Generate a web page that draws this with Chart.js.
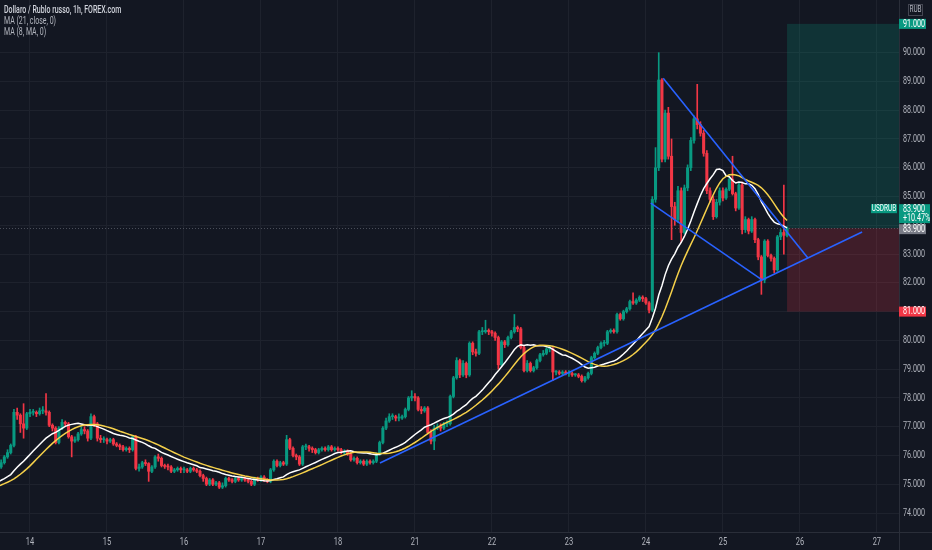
<!DOCTYPE html>
<html>
<head>
<meta charset="utf-8">
<script src="https://cdn.jsdelivr.net/npm/chart.js@4.4.0/dist/chart.umd.min.js"></script>
<style>
body{margin:0;background:#131722;overflow:hidden}
#wrap{position:relative;width:932px;height:550px}
#legend{position:absolute;left:4px;top:4px;font:10px Roboto,sans-serif;line-height:11px;color:#b2b5be;transform:scaleX(0.7);transform-origin:0 0;white-space:nowrap}
#legend .t{color:#d1d4dc;font-weight:500}
</style>
</head>
<body>
<div id="wrap">
  <canvas id="chart" width="932" height="550"></canvas>
  <div id="legend">
    <div class="t">Dollaro / Rublo russo, 1h, FOREX.com</div>
    <div>MA (21, close, 0)</div>
    <div>MA (8, MA, 0)</div>
  </div>
</div>
<script>
// hourly candles, hour 0 = day 14 00:00 (weekend skipped)
var firstHour = -9;
var firstOpen = 75.6;
var closes = [
  75.75, 75.95, 76.1, 76.35, 77.5, 77.4, 77.1, 76.95, 77.45,
  // 14
  77.5, 77.5, 77.45, 77.55, 77.55, 77.5, 77.05, 76.95, 76.45, 76.95, 77.15, 77.1, 76.65, 76.5, 76.55, 76.75, 76.9, 76.85, 76.6, 77.35, 77.1, 76.6, 76.55, 76.55,
  // 15
  76.5, 76.55, 76.4, 76.35, 76.3, 76.2, 76.25, 76.2, 76.65, 75.55, 75.6, 75.75, 75.72, 75.45, 75.6, 75.95, 75.9, 75.65, 75.62, 75.6, 75.45, 75.5, 75.55, 75.5,
  // 16
  75.5, 75.45, 75.55, 75.5, 75.45, 75.3, 75.2, 75.0, 75.15, 75.0, 75.05, 74.9, 74.95, 75.2, 75.15, 75.1, 75.2, 75.15, 75.2, 75.15, 75.1, 75.0, 75.2, 75.15,
  // 17
  75.25, 75.15, 75.1, 75.5, 75.8, 75.65, 75.75, 75.7, 76.55, 76.25, 76.0, 75.95, 75.7, 76.3, 76.3, 76.25, 76.2, 76.1, 76.2, 76.25, 76.2, 76.3, 76.2, 76.25,
  // 18
  76.2, 76.1, 76.15, 76.05, 75.85, 75.9, 75.75, 75.8, 75.7, 75.8, 75.75, 75.8, 76.05, 76.45, 76.95, 77.2, 77.35, 77.35, 77.3, 77.3, 77.35, 77.6, 78.0, 78.05,
  // 21
  78.0, 77.6, 77.55, 77.65, 76.8, 76.5, 76.95, 77.0, 76.95, 77.1, 77.1, 78.05, 78.7, 79.3, 78.8, 79.2, 78.8, 79.9, 79.6, 79.55, 80.3, 80.3, 80.35, 80.3,
  // 22
  80.25, 80.1, 79.15, 79.95, 79.85, 80.1, 80.3, 80.45, 80.4, 79.75, 78.95, 79.2, 78.95, 79.05, 79.3, 79.5, 79.55, 79.7, 79.7, 78.9, 78.9, 78.85, 78.9, 78.85,
  // 23
  78.85, 78.8, 78.8, 78.75, 78.6, 78.7, 78.85, 79.4, 79.55, 79.75, 79.9, 79.9, 80.3, 80.35, 80.3, 80.9, 80.75, 81.0, 81.1, 81.35, 81.3, 81.4, 81.5, 81.45,
  // 24
  81.3, 81.05, 84.9, 86.0, 89.05, 86.3, 87.9, 86.4, 84.65, 84.2, 85.2, 83.75, 85.3, 86.0, 86.95, 87.7, 87.5, 87.2, 86.5, 85.2, 84.9, 84.3, 84.8, 85.2,
  // 25
  84.95, 85.25, 85.6, 85.1, 84.6, 85.4, 83.85, 84.2, 83.8, 84.2, 83.5, 82.9, 82.1, 83.45, 82.95, 82.85, 82.45, 83.6, 83.75, 83.65, 83.9
];
var highs = [
  75.85, 76.0, 76.2, 76.4, 77.6, 77.65, 77.45, 77.8, 77.5,
  77.6, 77.6, 77.55, 77.65, 77.7, 78.15, 77.55, 77.1, 77.0, 77.0, 77.25, 77.2, 77.15, 76.7, 76.65, 76.8, 77.0, 77.0, 76.9, 77.45, 77.4, 77.15, 76.7, 76.65,
  76.6, 76.6, 76.6, 76.45, 76.4, 76.35, 76.3, 76.3, 76.7, 76.7, 75.7, 75.8, 75.85, 75.75, 75.65, 76.0, 76.05, 75.95, 75.7, 75.7, 75.65, 75.55, 75.6, 75.6,
  75.6, 75.55, 75.6, 75.6, 75.55, 75.5, 75.35, 75.25, 75.2, 75.2, 75.1, 75.1, 75.05, 75.25, 75.25, 75.2, 75.25, 75.25, 75.25, 75.25, 75.2, 75.15, 75.25, 75.25,
  75.3, 75.3, 75.2, 75.55, 75.85, 75.85, 75.8, 75.8, 76.7, 76.6, 76.3, 76.05, 76.0, 76.35, 76.4, 76.35, 76.3, 76.25, 76.25, 76.3, 76.3, 76.35, 76.35, 76.3,
  76.3, 76.25, 76.2, 76.2, 76.1, 75.95, 75.95, 75.85, 75.85, 75.85, 75.85, 75.85, 76.1, 76.5, 77.0, 77.3, 77.45, 77.45, 77.4, 77.45, 77.4, 77.65, 78.05, 78.25,
  78.15, 78.05, 77.7, 77.7, 77.7, 76.9, 77.05, 77.1, 77.1, 77.15, 77.2, 78.1, 78.75, 79.4, 79.35, 79.3, 79.25, 79.95, 79.95, 79.7, 80.35, 80.45, 80.7, 80.4,
  80.35, 80.3, 80.15, 80.0, 80.0, 80.15, 80.35, 80.9, 80.5, 80.45, 79.8, 79.3, 79.25, 79.1, 79.35, 79.55, 79.65, 79.75, 79.8, 79.75, 78.95, 78.95, 78.95, 78.95,
  78.95, 78.9, 78.85, 78.85, 78.8, 78.75, 78.9, 79.45, 79.6, 79.8, 79.95, 80.0, 80.35, 80.4, 80.4, 80.95, 80.95, 81.05, 81.15, 81.4, 81.65, 81.45, 81.55, 81.55,
  81.5, 81.35, 85.0, 86.7, 90.0, 89.1, 88.0, 88.1, 87.0, 84.8, 85.35, 85.3, 85.4, 86.1, 87.05, 87.8, 88.9, 87.6, 87.3, 86.6, 85.3, 85.0, 84.9, 85.3,
  85.3, 85.3, 85.65, 86.4, 85.15, 85.5, 85.5, 84.3, 84.25, 84.3, 84.25, 83.55, 82.95, 83.5, 83.5, 83.0, 82.9, 83.65, 83.85, 85.4, 83.95
];
var lows = [
  75.55, 75.7, 75.9, 76.05, 76.3, 77.25, 76.8, 76.6, 76.9,
  77.35, 77.4, 77.35, 77.4, 77.45, 77.4, 77.0, 76.85, 76.4, 76.4, 76.9, 77.0, 76.6, 75.95, 76.45, 76.5, 76.7, 76.75, 76.5, 76.55, 77.0, 76.5, 76.45, 76.45,
  76.4, 76.45, 76.35, 76.3, 76.2, 76.15, 76.15, 76.1, 76.15, 75.5, 75.45, 75.55, 75.65, 75.1, 75.4, 75.55, 75.8, 75.6, 75.55, 75.5, 75.4, 75.4, 75.45, 75.4,
  75.4, 75.4, 75.4, 75.45, 75.4, 75.25, 75.1, 74.95, 74.95, 74.95, 74.95, 74.85, 74.85, 74.9, 75.1, 75.05, 75.05, 75.1, 75.1, 75.1, 75.05, 74.95, 74.95, 75.1,
  75.1, 75.1, 75.05, 75.05, 75.45, 75.6, 75.6, 75.65, 75.65, 76.2, 75.95, 75.85, 75.65, 75.65, 76.2, 76.15, 76.1, 76.05, 76.05, 76.15, 76.15, 76.15, 76.15, 76.15,
  76.15, 76.05, 76.05, 76.0, 75.8, 75.8, 75.7, 75.7, 75.65, 75.65, 75.7, 75.7, 75.75, 76.0, 76.4, 76.9, 77.15, 77.25, 77.2, 77.2, 77.25, 77.3, 77.55, 77.9,
  77.9, 77.55, 77.45, 77.5, 76.75, 76.4, 76.2, 76.9, 76.85, 76.9, 77.0, 77.05, 78.0, 78.65, 78.7, 78.75, 78.7, 78.75, 79.5, 79.45, 79.5, 80.2, 80.25, 80.2,
  80.15, 80.0, 79.0, 79.1, 79.75, 79.8, 80.05, 80.25, 80.3, 79.7, 78.9, 78.9, 78.9, 78.9, 79.0, 79.25, 79.45, 79.5, 79.6, 78.6, 78.8, 78.8, 78.8, 78.8,
  78.75, 78.75, 78.75, 78.7, 78.55, 78.55, 78.65, 78.8, 79.35, 79.5, 79.7, 79.8, 79.85, 80.25, 80.25, 80.25, 80.7, 80.7, 80.95, 81.05, 81.25, 81.25, 81.35, 81.35,
  81.25, 80.95, 81.0, 84.8, 85.9, 86.2, 86.2, 86.3, 83.5, 84.0, 84.1, 83.4, 83.7, 85.2, 85.9, 86.85, 87.35, 87.1, 86.4, 85.1, 84.8, 84.2, 84.25, 84.7,
  84.85, 84.9, 85.2, 85.05, 84.5, 84.55, 83.7, 83.75, 83.7, 83.75, 83.4, 82.8, 81.6, 82.0, 82.9, 82.75, 82.35, 82.4, 83.5, 83.0, 83.6
];
// closes before the visible window, only used to feed the moving averages
var priorCloses = [74.55, 74.6, 74.5, 74.55, 74.6, 74.7, 74.65, 74.6, 74.7, 74.75, 74.8, 74.7, 74.8, 74.9,
  74.85, 74.95, 75.0, 74.95, 75.1, 75.2, 75.15, 75.3, 75.35, 75.4, 75.45, 75.5, 75.6, 75.7];

var dayTicks = [0, 24, 48, 72, 96, 120, 144, 168, 192, 216, 240, 264];
var dayLabels = ['14', '15', '16', '17', '18', '21', '22', '23', '24', '25', '26', '27'];
var priceTicks = [74, 75, 76, 77, 78, 79, 80, 81, 82, 83, 84, 85, 86, 87, 88, 89, 90];

// drawings, in [hour, price]
var supportLine = [[109.1, 75.74], [259.4, 83.77]];
var upperWedge = [[197.4, 89.11], [242.5, 82.86]];
var lowerWedge = [[193.5, 84.77], [228.2, 82.1]];
var entryHour = 236, entryPrice = 83.9, targetPrice = 91.0, stopPrice = 81.0;

var UP = '#089981', DOWN = '#f23645', BLUE = '#2962ff', SX = 0.68;

var opens = closes.map(function(c, i){ return i === 0 ? firstOpen : closes[i-1]; });
var candleColors = closes.map(function(c, i){ return c >= opens[i] ? UP : DOWN; });
var wickData = closes.map(function(c, i){
  return {x: firstHour + i, y: [Math.min(lows[i], opens[i], c), Math.max(highs[i], opens[i], c)]};
});
var bodyData = closes.map(function(c, i){ return {x: firstHour + i, y: [opens[i], c]}; });

function sma(src, n){
  return src.map(function(v, i){
    if (i < n - 1 || src[i-n+1] == null) return null;
    var s = 0;
    for (var k = i - n + 1; k <= i; k++) s += src[k];
    return s / n;
  });
}
var allCloses = priorCloses.concat(closes);
var ma21 = sma(allCloses, 21);
var ma8 = sma(ma21, 8);
function maPoints(arr){
  var pts = [];
  arr.forEach(function(v, i){
    if (v != null && i >= priorCloses.length - 1) pts.push({x: firstHour - priorCloses.length + i, y: v});
  });
  return pts;
}
function linePts(l){ return l.map(function(p){ return {x: p[0], y: p[1]}; }); }
function lineDs(pts, color, w, order){
  return {type: 'line', data: pts, borderColor: color, borderWidth: w, pointRadius: 0, tension: 0, order: order};
}

function txt(ctx, s, x, y, align, color, size, weight){
  ctx.save();
  ctx.translate(x, y);
  ctx.scale(SX, 1);
  ctx.fillStyle = color;
  ctx.font = (weight || '') + ' ' + size + 'px Roboto, sans-serif';
  ctx.textAlign = align;
  ctx.textBaseline = 'middle';
  ctx.fillText(s, 0, 0);
  ctx.restore();
}

var overlay = {
  id: 'overlay',
  beforeDatasetsDraw: function(chart){
    var ctx = chart.ctx, xs = chart.scales.x, ys = chart.scales.y, a = chart.chartArea;
    var left = xs.getPixelForValue(entryHour);
    var yT = ys.getPixelForValue(targetPrice), yE = ys.getPixelForValue(entryPrice), yS = ys.getPixelForValue(stopPrice);
    ctx.save();
    ctx.fillStyle = 'rgba(8,153,129,0.22)';
    ctx.fillRect(left, yT, a.right - left, yE - yT);
    ctx.fillStyle = 'rgba(242,54,69,0.2)';
    ctx.fillRect(left, yE, a.right - left, yS - yE);
    ctx.strokeStyle = 'rgba(120,123,134,0.55)';
    ctx.lineWidth = 1;
    ctx.setLineDash([1, 2]);
    ctx.beginPath();
    ctx.moveTo(a.left, Math.round(yE) + 0.5);
    ctx.lineTo(a.right, Math.round(yE) + 0.5);
    ctx.stroke();
    ctx.restore();
  },
  afterDraw: function(chart){
    var ctx = chart.ctx, xs = chart.scales.x, ys = chart.scales.y, a = chart.chartArea;
    ctx.save();
    ctx.strokeStyle = '#2a2e39';
    ctx.lineWidth = 1;
    ctx.beginPath();
    ctx.moveTo(a.right + 0.5, 0); ctx.lineTo(a.right + 0.5, 550);
    ctx.moveTo(0, a.bottom + 0.5); ctx.lineTo(932, a.bottom + 0.5);
    ctx.stroke();
    ctx.restore();

    priceTicks.forEach(function(v){
      txt(ctx, v.toFixed(3), a.right + 4, ys.getPixelForValue(v), 'left', '#b2b5be', 10.5);
    });
    dayTicks.forEach(function(v, i){
      txt(ctx, dayLabels[i], xs.getPixelForValue(v), a.bottom + 10, 'center', '#b2b5be', 11);
    });

    function tag(y, w, h, bg, lines, color){
      ctx.fillStyle = bg;
      ctx.fillRect(a.right, y, w, h);
      lines.forEach(function(s, i){
        txt(ctx, s, a.right + 4, y + 5 + i * 9, 'left', color || '#ffffff', 10.5);
      });
    }
    var yT = ys.getPixelForValue(targetPrice), yE = ys.getPixelForValue(entryPrice), yS = ys.getPixelForValue(stopPrice);
    tag(yT - 5, 27, 10, '#089981', [targetPrice.toFixed(3)]);
    tag(yE - 4, 27, 10, '#787b86', [entryPrice.toFixed(3)]);
    tag(yE - 24, 31, 19, '#089981', [closes[closes.length - 1].toFixed(3), '+10.47%']);
    tag(yS - 5, 27, 10, '#f23645', [stopPrice.toFixed(3)]);

    ctx.fillStyle = '#089981';
    ctx.fillRect(a.right - 28, yE - 24, 26, 9);
    txt(ctx, 'USDRUB', a.right - 15, yE - 19.5, 'center', '#ffffff', 9.5);

    ctx.strokeStyle = '#434651';
    ctx.lineWidth = 1;
    ctx.strokeRect(908.5, 4.5, 14, 11);
    txt(ctx, 'RUB', 915.5, 10, 'center', '#b2b5be', 9.5);
  }
};

new Chart(document.getElementById('chart'), {
  type: 'bar',
  data: {
    datasets: [
      lineDs(linePts(supportLine), BLUE, 1.6, 0),
      lineDs(linePts(upperWedge), BLUE, 1.6, 0),
      lineDs(linePts(lowerWedge), BLUE, 1.6, 0),
      lineDs(maPoints(ma8), '#f5d04a', 1.5, 1),
      lineDs(maPoints(ma21), '#ffffff', 1.5, 2),
      {data: bodyData, backgroundColor: candleColors, barThickness: 2.4, minBarLength: 1, grouped: false, order: 3},
      {data: wickData, backgroundColor: candleColors, barThickness: 1, grouped: false, order: 4}
    ]
  },
  options: {
    responsive: false,
    animation: false,
    layout: {padding: 0},
    plugins: {legend: {display: false}, tooltip: {enabled: false}},
    scales: {
      x: {
        type: 'linear', min: -9.35, max: 270.9, offset: false,
        grid: {color: '#1e222d', drawTicks: false, offset: false},
        border: {display: false},
        ticks: {display: false},
        afterBuildTicks: function(s){ s.ticks = dayTicks.map(function(v){ return {value: v}; }); },
        afterFit: function(s){ s.height = 18; }
      },
      y: {
        position: 'right', min: 73.34, max: 91.83,
        grid: {color: '#1e222d', drawTicks: false},
        border: {display: false},
        ticks: {display: false},
        afterBuildTicks: function(s){ s.ticks = priceTicks.map(function(v){ return {value: v}; }); },
        afterFit: function(s){ s.width = 33; }
      }
    }
  },
  plugins: [overlay]
});
</script>
</body>
</html>
